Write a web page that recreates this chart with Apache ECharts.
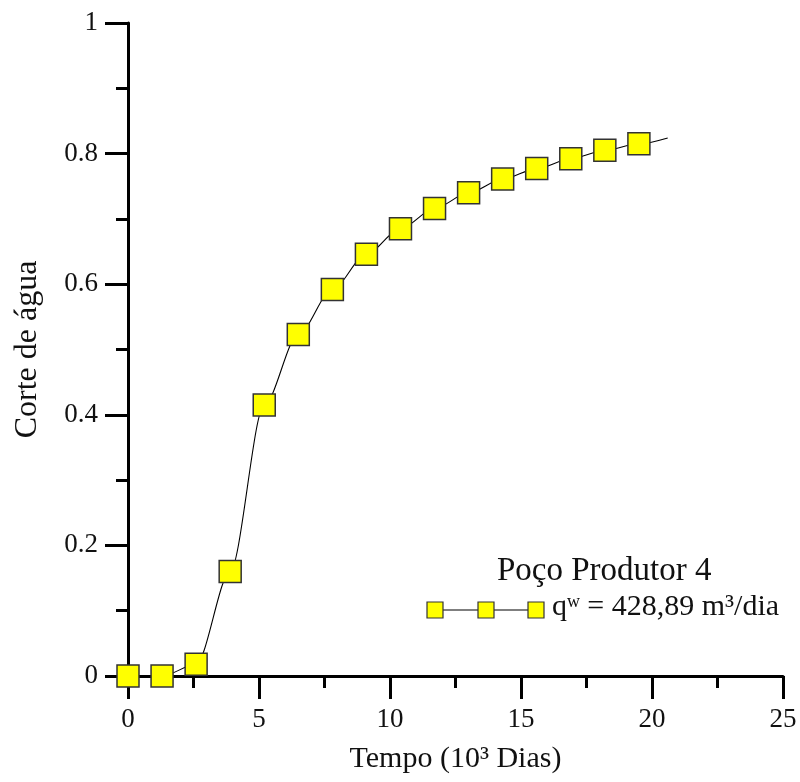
<!DOCTYPE html>
<html>
<head>
<meta charset="utf-8">
<script src="https://cdn.jsdelivr.net/npm/echarts@6/dist/echarts.min.js"></script>
<style>html,body{margin:0;padding:0;background:#fff}#c{width:800px;height:782px}</style>
</head>
<body>
<div id="c"></div>
<script>
// Data
var timeK = [0, 1.3, 2.6, 3.9, 5.2, 6.5, 7.8, 9.1, 10.4, 11.7, 13.0, 14.3, 15.6, 16.9, 18.2, 19.5];
var waterCut = [0, 0, 0.018, 0.16, 0.415, 0.523, 0.592, 0.646, 0.685, 0.716, 0.740, 0.761, 0.777, 0.792, 0.805, 0.815];
var lineEndX = 20.6, lineEndY = 0.824;
var xTicks = [0, 5, 10, 15, 20, 25];
var yTicks = [0, 0.2, 0.4, 0.6, 0.8, 1];
var legendTitle = 'Poço Produtor 4';
var seriesName = 'qʷ = 428,89 m³/dia';

var markerPts = timeK.map(function (x, i) { return [x, waterCut[i]]; });
var linePts = markerPts.concat([[lineEndX, lineEndY]]);

var FONT = '"Liberation Serif", "Times New Roman", serif';
var chart = echarts.init(document.getElementById('c'), null, {renderer: 'canvas'});
var axisCommon = {
  axisLine: {show: true, onZero: false, lineStyle: {color: '#000', width: 3}},
  axisTick: {show: true, inside: false, length: 23, lineStyle: {color: '#000', width: 3}},
  minorTick: {show: true, splitNumber: 2, length: 12, lineStyle: {color: '#000', width: 3}},
  splitLine: {show: false},
  minorSplitLine: {show: false}
};
chart.setOption({
  animation: false,
  backgroundColor: '#fff',
  grid: {left: 128, right: 17, top: 23, bottom: 106, containLabel: false},
  xAxis: Object.assign({}, axisCommon, {
    type: 'value', min: xTicks[0], max: xTicks[xTicks.length - 1], interval: 5,
    name: 'Tempo (10³ Dias)', nameLocation: 'middle', nameGap: 68,
    nameTextStyle: {fontFamily: FONT, fontSize: 30, color: '#111'},
    axisLabel: {margin: 30, fontFamily: FONT, fontSize: 27, color: '#111'}
  }),
  yAxis: Object.assign({}, axisCommon, {
    type: 'value', min: yTicks[0], max: yTicks[yTicks.length - 1], interval: 0.2,
    name: 'Corte de água', nameLocation: 'middle', nameGap: 84,
    nameTextStyle: {fontFamily: FONT, fontSize: 32, color: '#111'},
    axisLabel: {margin: 30, fontFamily: FONT, fontSize: 27, color: '#111'}
  }),
  series: [
    {
      type: 'line', data: linePts, smooth: 0.3, smoothMonotone: 'x',
      showSymbol: false, symbol: 'none',
      lineStyle: {color: '#000', width: 1.1}, z: 2
    },
    {
      type: 'scatter', name: seriesName, data: markerPts,
      symbol: 'rect', symbolSize: 22,
      itemStyle: {color: '#FFFF00', borderColor: '#333', borderWidth: 1.5, opacity: 1}, z: 3
    }
  ],
  graphic: [
    {type: 'text', left: 497, top: 555, style: {text: legendTitle, font: '33px ' + FONT, fill: '#111'}},
    {type: 'line', shape: {x1: 435, y1: 610, x2: 536, y2: 610}, style: {stroke: '#000', lineWidth: 1.2}},
    {type: 'rect', shape: {x: 427, y: 602, width: 16, height: 16}, style: {fill: '#FFFF00', stroke: '#333', lineWidth: 1.2}},
    {type: 'rect', shape: {x: 478, y: 602, width: 16, height: 16}, style: {fill: '#FFFF00', stroke: '#333', lineWidth: 1.2}},
    {type: 'rect', shape: {x: 528, y: 602, width: 16, height: 16}, style: {fill: '#FFFF00', stroke: '#333', lineWidth: 1.2}},
    {type: 'text', left: 552, top: 592, style: {text: seriesName, font: '30px ' + FONT, fill: '#111'}}
  ]
});
</script>
</body>
</html>
